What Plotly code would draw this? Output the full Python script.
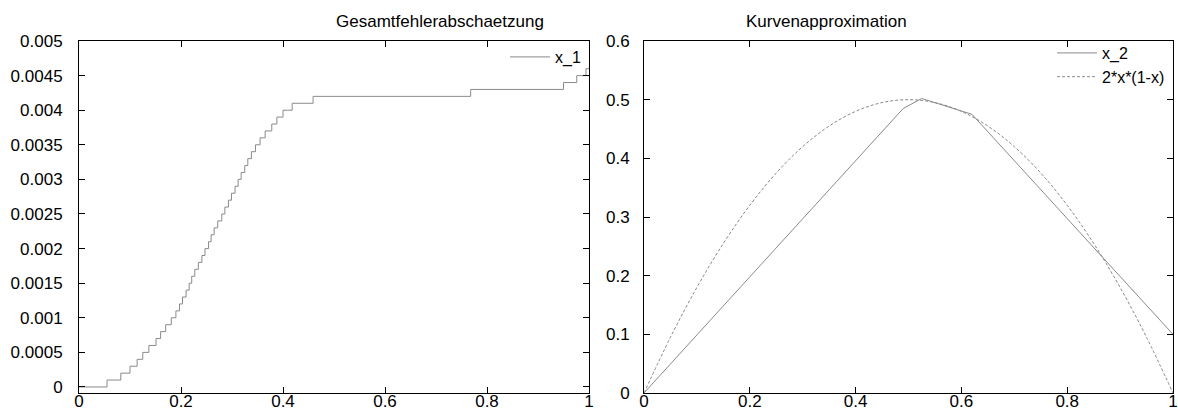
import plotly.graph_objects as go

# ---- data ----
# Left: staircase x_1; step-up positions to successive levels of 0.0001
x1_steps = [0.0, 0.055, 0.082, 0.100, 0.114, 0.125, 0.137, 0.151, 0.160, 0.170, 0.181,
            0.190, 0.197, 0.203, 0.210, 0.216, 0.221, 0.227, 0.234, 0.241, 0.247,
            0.254, 0.259, 0.265, 0.272, 0.280, 0.286, 0.293, 0.299, 0.306, 0.312,
            0.318, 0.325, 0.331, 0.338, 0.346, 0.355, 0.365, 0.378, 0.388, 0.400,
            0.418, 0.459, 0.768, 0.950, 0.976, 0.994, 1.0]
x1_vals = [0.0, 0.0001, 0.0002, 0.0003, 0.0004, 0.0005, 0.0006, 0.0007, 0.0008, 0.0009, 0.0010,
           0.0011, 0.0012, 0.0013, 0.0014, 0.0015, 0.0016, 0.0017, 0.0018, 0.0019, 0.0020,
           0.0021, 0.0022, 0.0023, 0.0024, 0.0025, 0.0026, 0.0027, 0.0028, 0.0029, 0.0030,
           0.0031, 0.0032, 0.0033, 0.0034, 0.0035, 0.0036, 0.0037, 0.0038, 0.0039, 0.0040,
           0.0041, 0.0042, 0.0043, 0.0044, 0.0045, 0.0046, 0.0046]

# Right: polygon approximation x_2
x2_x = [0.0, 0.49, 0.525, 0.62, 1.0]
x2_y = [0.0, 0.485, 0.502, 0.475, 0.1]

# Right: reference curve 2*x*(1-x)
ref_x = [0.0, 0.05, 0.1, 0.15, 0.2, 0.25, 0.3, 0.35, 0.4, 0.45, 0.5,
         0.55, 0.6, 0.65, 0.7, 0.75, 0.8, 0.85, 0.9, 0.95, 1.0]
ref_y = [0.0, 0.095, 0.18, 0.255, 0.32, 0.375, 0.42, 0.455, 0.48, 0.495, 0.5,
         0.495, 0.48, 0.455, 0.42, 0.375, 0.32, 0.255, 0.18, 0.095, 0.0]

x_ticks = [0, 0.2, 0.4, 0.6, 0.8, 1]
x_tick_text = ["0", "0.2", "0.4", "0.6", "0.8", "1"]
y1_ticks = [0, 0.0005, 0.001, 0.0015, 0.002, 0.0025, 0.003, 0.0035, 0.004, 0.0045, 0.005]
y1_tick_text = ["0", "0.0005", "0.001", "0.0015", "0.002", "0.0025", "0.003", "0.0035",
                "0.004", "0.0045", "0.005"]
y2_ticks = [0, 0.1, 0.2, 0.3, 0.4, 0.5, 0.6]
y2_tick_text = ["0", "0.1", "0.2", "0.3", "0.4", "0.5", "0.6"]

titles = ["Gesamtfehlerabschaetzung", "Kurvenapproximation"]

W, H = 1178, 412
FONT = "Liberation Sans, Arial, Helvetica, sans-serif"
GRAY = "#8a8a8a"

fig = go.Figure()
fig.add_trace(go.Scatter(x=x1_steps, y=x1_vals, mode="lines", name="x_1",
                         line=dict(color=GRAY, width=1, shape="hv"),
                         xaxis="x", yaxis="y", legend="legend"))
fig.add_trace(go.Scatter(x=x2_x, y=x2_y, mode="lines", name="x_2",
                         line=dict(color=GRAY, width=1),
                         xaxis="x2", yaxis="y2", legend="legend2"))
fig.add_trace(go.Scatter(x=ref_x, y=ref_y, mode="lines", name="2*x*(1-x)",
                         line=dict(color=GRAY, width=1, dash="3px,2px", shape="spline"),
                         xaxis="x2", yaxis="y2", legend="legend2"))

def px_x(p):
    return p / W

def px_y(p):
    return (H - p) / H

axis_common = dict(showline=True, linecolor="black", linewidth=1, mirror="ticks",
                   ticks="inside", ticklen=6, tickcolor="black", showgrid=False,
                   zeroline=False, tickfont=dict(family=FONT, size=17, color="black"))

fig.update_layout(
    width=W, height=H,
    margin=dict(l=0, r=0, t=0, b=0),
    paper_bgcolor="white", plot_bgcolor="white",
    font=dict(family=FONT, size=16, color="black"),
    xaxis=dict(domain=[px_x(79), px_x(589)], range=[0, 1], tickvals=x_ticks,
               ticktext=x_tick_text, anchor="y", automargin=False,
               ticklabelstandoff=-7, **axis_common),
    yaxis=dict(domain=[px_y(393), px_y(41)], range=[-0.000087, 0.005], tickvals=y1_ticks,
               ticktext=y1_tick_text, anchor="x", automargin=False,
               ticklabelstandoff=12, **axis_common),
    xaxis2=dict(domain=[px_x(644), px_x(1173)], range=[0, 1], tickvals=x_ticks,
                ticktext=x_tick_text, anchor="y2", automargin=False,
                ticklabelstandoff=-7, **axis_common),
    yaxis2=dict(domain=[px_y(393), px_y(41)], range=[0, 0.6], tickvals=y2_ticks,
                ticktext=y2_tick_text, anchor="x2", automargin=False,
                ticklabelstandoff=10, **axis_common),
    legend=dict(x=px_x(586), y=px_y(40), xanchor="right", yanchor="top",
                bgcolor="rgba(0,0,0,0)", font=dict(family=FONT, size=16),
                itemwidth=40, tracegroupgap=0),
    legend2=dict(x=px_x(1170), y=px_y(36), xanchor="right", yanchor="top",
                 bgcolor="rgba(0,0,0,0)", font=dict(family=FONT, size=16),
                 itemwidth=40, tracegroupgap=0),
    showlegend=True,
)

fig.add_annotation(text=titles[0], x=(px_x(79) + px_x(589)) / 2, y=px_y(22),
                   xref="paper", yref="paper", showarrow=False, yanchor="middle",
                   font=dict(family=FONT, size=17, color="black"))
fig.add_annotation(text=titles[1], x=(px_x(644) + px_x(1173)) / 2, y=px_y(22),
                   xref="paper", yref="paper", showarrow=False, yanchor="middle",
                   font=dict(family=FONT, size=17, color="black"))

fig.write_html("out.html",
               config={"displayModeBar": False},
               post_script="document.body.style.margin='0px';"
                           "document.body.style.overflow='hidden';")
